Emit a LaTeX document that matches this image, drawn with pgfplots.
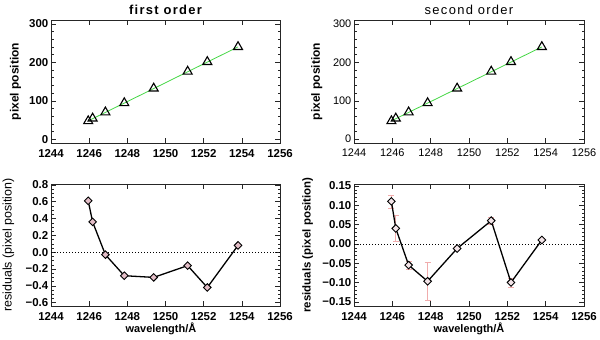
\documentclass[border=0pt]{standalone}
\usepackage{pgfplots}
\pgfplotsset{compat=1.18}
\usepackage{fontspec}
\setmainfont{Liberation Sans}
\newfontfamily\titlefontB[LetterSpace=10]{Liberation Sans}
\definecolor{fitgreen}{RGB}{70,215,70}
\definecolor{errpink}{RGB}{240,172,172}
\definecolor{mkpink}{RGB}{228,190,200}

\pgfplotsset{
  idl/.style={
    scale only axis, anchor=south west,
    xmin=1244, xmax=1256, xtick={1244,1246,...,1256},
    minor x tick num=3,
    xtick pos=both, ytick pos=both,
    tick align=inside,
    major tick length=5bp, minor tick length=2.5bp,
    every tick/.style={black!85, line width=0.4bp},
    axis line style={black!85, line width=0.5bp},
    /pgf/number format/assume math mode=true,
    /pgf/number format/1000 sep={},
    xticklabel style={inner sep=0pt},
    xticklabel shift=6bp,
    yticklabel style={inner sep=0pt},
    yticklabel shift=2.5bp,
    every axis title/.style={at={(0.5,1)}, anchor=base, yshift=6bp, inner sep=0pt},
    clip=false,
  },
  bf/.style={tick label style={font=\fontsize{11.5}{13}\bfseries\selectfont}},
  rg/.style={tick label style={font=\fontsize{11}{13}\selectfont}},
}

\begin{document}
\begin{tikzpicture}[x=1bp,y=1bp]
\useasboundingbox (0,0) rectangle (600,339);

% ---------- top left ----------
\begin{axis}[idl, bf, at={(51bp,196bp)}, width=229bp, height=123bp,
  ymin=-10, ymax=310, ytick={0,100,200,300}, minor y tick num=4,
  title={\titlefontB\fontsize{13}{15}\bfseries\selectfont first order},
  ylabel={\fontsize{12}{14}\bfseries\selectfont pixel position},
  ylabel style={at={(axis description cs:-0.155,0.5)}, anchor=center}]
\addplot[fitgreen, line width=0.8bp] coordinates {(1245.95,47.5) (1253.8,240)};
\addplot[only marks, mark=triangle, mark size=5.2bp, mark options={black, line width=1.1bp}]
  coordinates {(1245.95,47) (1246.18,54) (1246.85,70) (1247.84,94) (1249.38,132) (1251.16,176) (1252.19,201) (1253.8,240)};
\end{axis}

% ---------- top right ----------
\begin{axis}[idl, rg, at={(354bp,196bp)}, width=230bp, height=123bp,
  ymin=-10, ymax=310, ytick={0,100,200,300}, minor y tick num=4,
  title={\titlefontB\fontsize{13}{15}\selectfont second order},
  ylabel={\fontsize{12}{14}\bfseries\selectfont pixel position},
  ylabel style={at={(axis description cs:-0.162,0.5)}, anchor=center}]
\addplot[fitgreen, line width=0.8bp] coordinates {(1245.95,47.5) (1253.8,240)};
\addplot[only marks, mark=triangle, mark size=5.2bp, mark options={black, line width=1.1bp}]
  coordinates {(1245.95,47) (1246.18,54) (1246.85,70) (1247.84,94) (1249.38,132) (1251.16,176) (1252.19,201) (1253.8,240)};
\end{axis}

% ---------- bottom left ----------
\begin{axis}[idl, bf, at={(51bp,33bp)}, width=229bp, height=122bp,
  ymin=-0.64, ymax=0.81, ytick={-0.6,-0.4,...,0.8}, minor y tick num=3,
  yticklabels={−0.6,−0.4,−0.2,0.0,0.2,0.4,0.6,0.8},
  ylabel={\fontsize{12.5}{14}\selectfont residuals (pixel position)},
  ylabel style={at={(axis description cs:-0.186,0.5)}, anchor=center},
  xlabel={\fontsize{11}{13}\bfseries\selectfont wavelength/Å},
  xlabel style={at={(axis description cs:0.48,0)}, anchor=base, yshift=-26.3bp, inner sep=0pt}]
\addplot[black, line width=0.5bp, dash pattern=on 1.2bp off 1.8bp] coordinates {(1244,0) (1256,0)};
\addplot[black, line width=1.3bp, mark=square*, mark size=2.7bp,
  mark options={rotate=45, fill=mkpink, draw=black, line width=0.9bp}]
  coordinates {(1245.95,0.61) (1246.18,0.36) (1246.85,-0.03) (1247.84,-0.28) (1249.38,-0.30) (1251.16,-0.16) (1252.19,-0.42) (1253.8,0.08)};
\end{axis}

% ---------- bottom right ----------
\begin{axis}[idl, bf, at={(354bp,33bp)}, width=230bp, height=122bp,
  ymin=-0.161, ymax=0.155, ytick={-0.15,-0.10,...,0.16}, minor y tick num=4,
  yticklabels={−0.15,−0.10,−0.05,0.00,0.05,0.10,0.15},
  ylabel={\fontsize{11.5}{14}\bfseries\selectfont residuals (pixel position)},
  ylabel style={at={(axis description cs:-0.201,0.5)}, anchor=center},
  xlabel={\fontsize{11}{13}\bfseries\selectfont wavelength/Å},
  xlabel style={at={(axis description cs:0.5,0)}, anchor=base, yshift=-26.3bp, inner sep=0pt}]
\addplot[black, line width=0.5bp, dash pattern=on 1.2bp off 1.8bp] coordinates {(1244,0) (1256,0)};
\addplot[draw=none, mark=none, forget plot,
  error bars/.cd, y dir=both, y explicit,
  error bar style={errpink, line width=0.6bp},
  error mark options={errpink, rotate=90, mark size=3bp, line width=0.6bp}]
  coordinates {(1245.95,0.11) +- (0,0.017) (1246.18,0.04) +- (0,0.034) (1246.85,-0.055) +- (0,0.011)
    (1247.84,-0.097) +- (0,0.049) (1249.38,-0.012) +- (0,0.006) (1251.16,0.06) +- (0,0.01)
    (1252.19,-0.10) +- (0,0.012) (1253.8,0.01) +- (0,0.004)};
\addplot[black, line width=1.3bp, mark=square*, mark size=2.7bp,
  mark options={rotate=45, fill=mkpink!40!white, draw=black, line width=0.9bp}]
  coordinates {(1245.95,0.11) (1246.18,0.04) (1246.85,-0.055) (1247.84,-0.097) (1249.38,-0.012) (1251.16,0.06) (1252.19,-0.10) (1253.8,0.01)};
\end{axis}
\end{tikzpicture}
\end{document}
